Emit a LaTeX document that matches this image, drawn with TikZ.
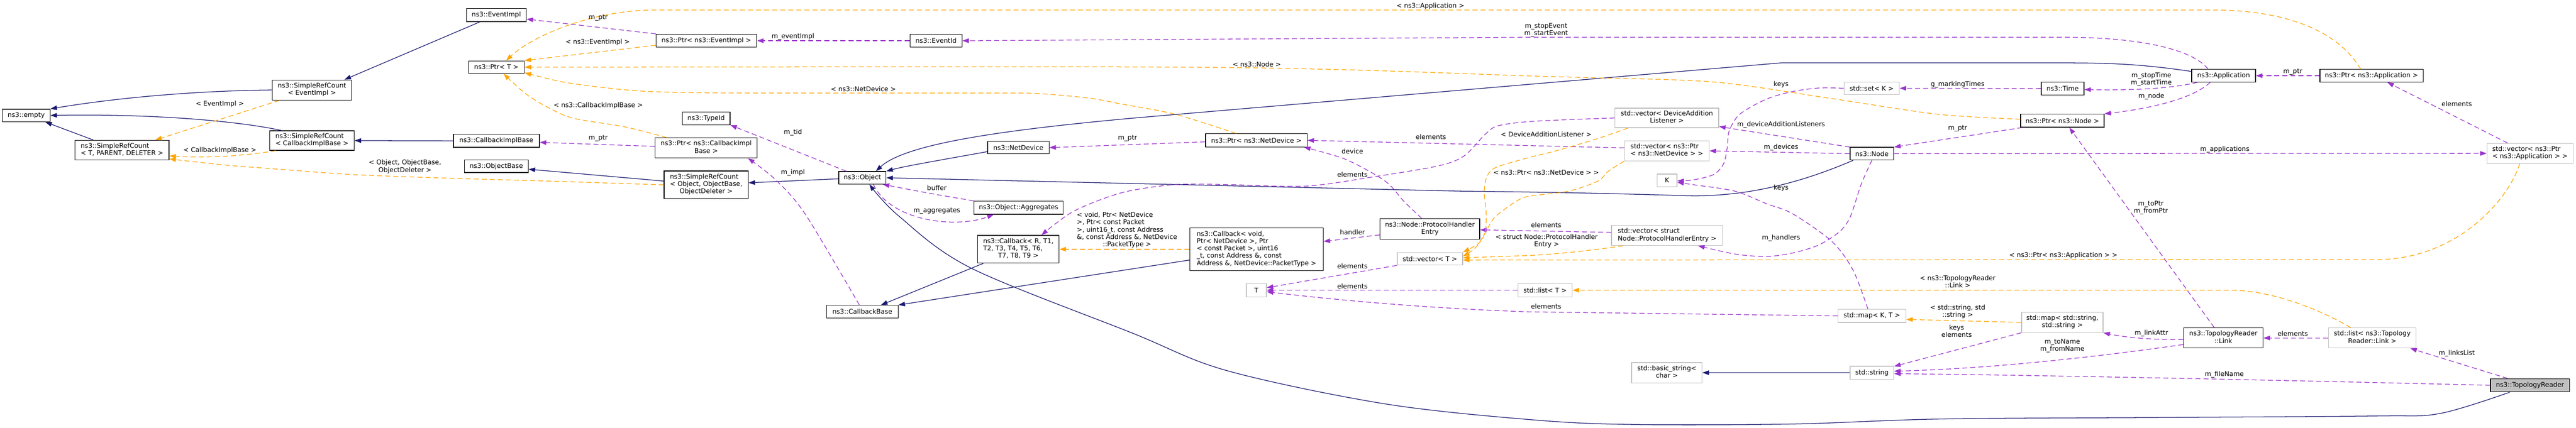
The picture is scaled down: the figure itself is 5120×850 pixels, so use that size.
\documentclass[tikz,border=0pt]{standalone}
\usepackage{fontspec}
\setmainfont{DejaVu Sans}
\usetikzlibrary{arrows.meta}
\definecolor{navy}{HTML}{191970}
\definecolor{purp}{HTML}{9A32CD}
\definecolor{orng}{HTML}{FFA500}
\definecolor{grey75}{HTML}{BFBFBF}
\newcommand{\mlx}[2]{\begin{tabular}{@{}l@{}}#1\\\multicolumn{1}{@{}c@{}}{#2}\end{tabular}}
\newcommand{\clx}[1]{\begin{tabular}{@{}c@{}}#1\end{tabular}}
\begin{document}
\begin{tikzpicture}[x=1pt,y=-1pt,
  txt/.style={font=\fontsize{13}{14.6}\selectfont},
  doc/.style={txt,draw=black,fill=white,line width=1.3pt,inner sep=0pt},
  und/.style={txt,draw=grey75,fill=white,line width=1.3pt,inner sep=0pt},
  bx/.style 2 args={minimum width=#1pt,minimum height=#2pt},
  lbl/.style={txt,inner sep=0pt},
  tip/.style={-{Triangle[length=13pt,width=9pt]}},
  inhline/.style={draw=navy,line width=1.3pt,tip},
  useline/.style={draw=purp,line width=1.3pt,dash pattern=on 10pt off 6pt,tip},
  tmplline/.style={draw=orng,line width=1.3pt,dash pattern=on 10pt off 6pt,tip}]
\fill[white] (0,0) rectangle (5120,850);
\useasboundingbox (0,0) rectangle (5120,850);

% ---------------- nodes ----------------
\node[doc,bx={95}{25}] (empty) at (52,229.5) {ns3::empty};
\node[doc,bx={187}{39}] (srcTPD) at (242.5,298.5) {\mlx{ns3::SimpleRefCount}{< T, PARENT, DELETER >}};
\node[doc,bx={158}{40}] (srcEI) at (620,179) {\mlx{ns3::SimpleRefCount}{< EventImpl >}};
\node[doc,bx={168}{39}] (srcCIB) at (620,279.5) {\mlx{ns3::SimpleRefCount}{< CallbackImplBase >}};
\node[doc,bx={119}{26}] (eventImpl) at (986.5,30) {ns3::EventImpl};
\node[doc,bx={111}{25}] (ptrT) at (986.5,133.5) {ns3::Ptr< T >};
\node[doc,bx={171}{26}] (cib) at (986.5,280) {ns3::CallbackImplBase};
\node[doc,bx={127}{25}] (objBase) at (986.5,330.5) {ns3::ObjectBase};
\node[doc,bx={200}{26}] (ptrEI) at (1404,81) {ns3::Ptr< ns3::EventImpl >};
\node[doc,bx={95}{25}] (typeId) at (1403.5,235.5) {ns3::TypeId};
\node[doc,bx={203}{40}] (ptrCIB) at (1403.5,294) {\mlx{ns3::Ptr< ns3::CallbackImpl}{Base >}};
\node[doc,bx={167}{55}] (srcObj) at (1403.5,367.5) {\mlx{ns3::SimpleRefCount\\< Object, ObjectBase,}{ObjectDeleter >}};
\node[doc,bx={103}{26}] (eventId) at (1860.5,81) {ns3::EventId};
\node[doc,bx={94}{25}] (object) at (1714,353.5) {ns3::Object};
\node[doc,bx={142}{25}] (cbBase) at (1714,619.5) {ns3::CallbackBase};
\node[doc,bx={122}{25}] (netDev) at (2024,293.5) {ns3::NetDevice};
\node[doc,bx={177}{26}] (aggr) at (2024.5,413) {ns3::Object::Aggregates};
\node[doc,bx={162}{55}] (cbRT) at (2024,495.5) {\mlx{ns3::Callback< R, T1,\\ T2, T3, T4, T5, T6,}{T7, T8, T9 >}};
\node[doc,bx={202}{26}] (ptrND) at (2497,279) {ns3::Ptr< ns3::NetDevice >};
\node[doc,bx={265}{85}] (cbVoid) at (2497.5,495.5) {\mlx{ns3::Callback< void,\\ Ptr< NetDevice >, Ptr\\< const Packet >, uint16\\\_t, const Address \&, const}{Address \&, NetDevice::PacketType >}};
\node[und,bx={40}{26}] (tT) at (2497,577) {T};
\node[doc,bx={198}{41}] (phe) at (2842,455.5) {\mlx{ns3::Node::ProtocolHandler}{Entry}};
\node[und,bx={130}{25}] (vecT) at (2842,514.5) {std::vector< T >};
\node[und,bx={108}{26}] (listT) at (3071,577) {std::list< T >};
\node[und,bx={206}{39}] (vecDAL) at (3313,234.5) {\mlx{std::vector< DeviceAddition}{Listener >}};
\node[und,bx={168}{40}] (vecPND) at (3313,300) {\mlx{std::vector< ns3::Ptr}{< ns3::NetDevice > >}};
\node[und,bx={39}{25}] (kK) at (3313.5,358.5) {K};
\node[und,bx={221}{40}] (vecPHE) at (3313.5,468) {\mlx{std::vector< struct}{Node::ProtocolHandlerEntry >}};
\node[und,bx={140}{40}] (basicStr) at (3313,741) {\mlx{std::basic\_string<}{char >}};
\node[und,bx={110}{25}] (setK) at (3720,175.5) {std::set< K >};
\node[doc,bx={87}{25}] (nsNode) at (3720.5,305.5) {ns3::Node};
\node[und,bx={135}{26}] (mapKT) at (3720.5,628) {std::map< K, T >};
\node[und,bx={87}{26}] (stdString) at (3720.5,741) {std::string};
\node[doc,bx={85}{26}] (nsTime) at (4099.5,176) {ns3::Time};
\node[doc,bx={166}{26}] (ptrNode) at (4099,240) {ns3::Ptr< ns3::Node >};
\node[und,bx={162}{40}] (mapSS) at (4099,641) {\mlx{std::map< std::string,}{std::string >}};
\node[doc,bx={127}{25}] (app) at (4419.5,150.5) {ns3::Application};
\node[doc,bx={158}{40}] (link) at (4419,672) {\mlx{ns3::TopologyReader}{::Link}};
\node[doc,bx={205}{25}] (ptrApp) at (4713.5,150.5) {ns3::Ptr< ns3::Application >};
\node[und,bx={174}{40}] (listLink) at (4715,672) {\mlx{std::list< ns3::Topology}{Reader::Link >}};
\node[und,bx={171}{40}] (vecPApp) at (5028.5,305) {\mlx{std::vector< ns3::Ptr}{< ns3::Application > >}};
\node[doc,fill=grey75,bx={157}{26}] (topo) at (5028.5,766) {ns3::TopologyReader};

% ---------------- inheritance (navy) ----------------
\draw[inhline] (srcEI.west) .. controls (420,180) and (260,190) .. (empty.north east);
\draw[inhline] ([xshift=24pt]srcCIB.north west) .. controls (470,240) and (300,226) .. (empty.east);
\draw[inhline] ([xshift=-57pt]srcTPD.north) -- ([xshift=-10pt]empty.south east);
\draw[inhline] ([xshift=-33pt]eventImpl.south) -- ([xshift=-15pt]srcEI.north east);
\draw[inhline] (cib.west) -- (srcCIB.east);
\draw[inhline] ([yshift=7.5pt]srcObj.west) -- ([yshift=-6pt]objBase.east);
\draw[inhline] ([yshift=-2pt]object.west) -- ([yshift=4pt]srcObj.east);
\draw[inhline] ([yshift=-8pt]netDev.west) .. controls (1860,320) and (1800,330) .. (object.north east);
\draw[inhline] ([yshift=8.5pt]app.west) .. controls (4260,128) and (4200,125) .. (4100,125) -- (3540,125) -- (2250,235) .. controls (2000,258) and (1800,285) .. ([xshift=27pt]object.north);
\draw[inhline] ([xshift=-37pt]nsNode.south) .. controls (3560,372) and (3450,392) .. (3350,389) .. controls (3250,386) and (3100,382) .. (2900,380) -- (object.east);
\draw[inhline] plot[smooth,tension=0.55] coordinates {([xshift=-40pt]topo.south) (4850,822) (4725,827) (4300,830) (3860,833) (3563,843) (3249,844) (3050,835) (2753,803) (2439,737) (2250,662) (1930,533) (1787,430) ([xshift=14pt]object.south)};
\draw[inhline] ([xshift=12pt]cbRT.south west) -- ([xshift=37pt]cbBase.north);
\draw[inhline] ([yshift=-21.5pt]cbVoid.west) -- (cbBase.north east);
\draw[inhline] (stdString.west) -- (basicStr.east);

% ---------------- usage (purple) ----------------
\draw[useline] (ptrEI.north west) -- ([yshift=-8pt]eventImpl.east);
\draw[useline] (eventId.west) -- (ptrEI.east);
\draw[useline] ([xshift=-31pt]app.north) .. controls (4360,100) and (4260,74) .. (4100,74) -- (3040,74) -- (eventId.east);
\draw[useline] ([xshift=-32pt]object.north) -- (typeId.south east);
\draw[useline] plot[smooth] coordinates {([xshift=-6pt]cbBase.north) (1600,425) (1540,356) ([xshift=-19pt]ptrCIB.south east)};
\draw[useline] ([yshift=3pt]ptrCIB.west) -- ([yshift=-3pt]cib.east);
\draw[useline] (aggr.north west) .. controls (1850,385) .. ([xshift=-7pt]object.south east);
\draw[useline] ([xshift=22pt]object.south) .. controls (1770,440) and (1900,455) .. ([xshift=-49.5pt]aggr.south);
\draw[useline] ([yshift=-3pt]ptrND.west) -- (netDev.east);
\draw[useline] plot[smooth,tension=0.5] coordinates {(vecDAL.west) (3050,241) (2978,250) (2952,267) (2910,310) (2858,330) (2727,352) (2596,370) (2439,367) (2335,367) (2230,383) (2134,420) ([xshift=46pt]cbRT.north)};
\draw[useline] ([yshift=6pt]vecPND.west) -- (ptrND.east);
\draw[useline] plot[smooth] coordinates {([xshift=-16pt]phe.north) (2790,400) (2753,360) (2675,317) ([xshift=-7pt]ptrND.south east)};
\draw[useline] ([yshift=-11.5pt]phe.west) -- ([yshift=15.5pt]cbVoid.east);
\draw[useline] (vecT.south west) -- ([yshift=5pt]tT.east);
\draw[useline] (listT.west) -- (tT.east);
\draw[useline] (mapKT.west) -- (3040,620) .. controls (2800,612) and (2600,590) .. ([yshift=-3pt]tT.east);
\draw[useline] ([yshift=6pt]vecPHE.west) -- ([yshift=-1.5pt]phe.east);
\draw[useline] plot[smooth] coordinates {(setK.west) (3615,175) (3563,182) (3511,197) (3458,227) (3437,260) (3433,293) (3426,325) (3406,347) (3364,358) ([yshift=-1pt]kK.east)};
\draw[useline] plot[smooth] coordinates {([xshift=-8pt]mapKT.north) (3683,537) (3641,480) (3563,425) (3511,405) (3448,380) (3364,367) ([yshift=-4pt]kK.east)};
\draw[useline] (nsNode.north west) -- ([yshift=3pt]vecDAL.south east);
\draw[useline] (nsNode.west) -- (vecPND.east);
\draw[useline] plot[smooth] coordinates {(nsNode.south) (3699,367) (3678,430) (3657,460) (3615,487) (3563,503) (3510,510) (3448,505) ([xshift=61.5pt]vecPHE.south)};
\draw[useline] ([xshift=4pt]ptrNode.south west) -- (nsNode.north east);
\draw[useline] (nsNode.east) -- (vecPApp.west);
\draw[useline] (nsTime.west) -- (setK.east);
\draw[useline] (ptrApp.west) -- (app.east);
\draw[useline] ([xshift=-51.5pt]app.south) .. controls (4320,175) and (4250,180) .. ([yshift=-2pt]nsTime.east);
\draw[useline] ([xshift=-26.5pt]app.south) .. controls (4360,195) and (4280,215) .. (ptrNode.north east);
\draw[useline] ([xshift=-44.5pt]vecPApp.north) -- ([xshift=31.5pt]ptrApp.south);
\draw[useline] ([xshift=-18pt]link.north) -- ([xshift=14pt]ptrNode.south);
\draw[useline] ([yshift=-3pt]link.west) .. controls (4260,676) and (4210,668) .. (mapSS.south east);
\draw[useline] ([yshift=-13pt]link.west) .. controls (4150,712) and (3950,733) .. ([yshift=3pt]stdString.east);
\draw[useline] (mapSS.south west) -- ([yshift=-1pt]stdString.north east);
\draw[useline] (topo.west) .. controls (4500,755) and (4000,745) .. ([yshift=-2pt]stdString.east);
\draw[useline] (listLink.west) -- (link.east);
\draw[useline] ([xshift=-44.5pt]topo.north) -- ([xshift=-12pt]listLink.south east);

% ---------------- template instances (orange) ----------------
\draw[tmplline] ([xshift=15pt]srcEI.south west) -- ([xshift=-28pt]srcTPD.north east);
\draw[tmplline] ([xshift=13pt]srcCIB.south west) .. controls (470,312) and (400,314) .. ([yshift=-11.5pt]srcTPD.east);
\draw[tmplline] plot[smooth] coordinates {(srcObj.west) (1088,360) (884,354) (700,347) (536,335) (446,328) ([yshift=-17.5pt]srcTPD.east)};
\draw[tmplline] ([yshift=-9pt]ptrEI.west) -- (ptrT.north east);
\draw[tmplline] ([xshift=-21.5pt]ptrApp.north) .. controls (4640,50) and (4520,20) .. (4400,20) -- (1300,20) .. controls (1180,20) and (1060,70) .. ([xshift=19.5pt]ptrT.north);
\draw[tmplline] plot[smooth] coordinates {([yshift=3pt]ptrNode.west) (3850,227) (3641,196) (3406,163) (3144,154) (3040,151) (2648,138) (2230,133) (ptrT.east)};
\draw[tmplline] plot[smooth] coordinates {([xshift=-40pt]ptrND.north) (2335,227) (2230,207) (2164,195) (2062,186) (1960,185) (1480,185) (1292,182) (1190,173) (1114,162) ([yshift=2pt]ptrT.south east)};
\draw[tmplline] plot[smooth] coordinates {([xshift=-78.5pt]ptrCIB.north) (1241,252) (1139,235) (1088,213) (1047,188) (1017,162) ([xshift=14.5pt]ptrT.south)};
\draw[tmplline] (cbVoid.west) -- (cbRT.east);
\draw[tmplline] plot[smooth] coordinates {([xshift=-77pt]vecDAL.south) (3171,277) (3092,300) (3040,313) (2973,333) (2955,352) (2950,383) (2954,425) (2952,460) (2940,483) (vecT.north east)};
\draw[tmplline] plot[smooth] coordinates {([xshift=-85pt]vecPND.south) (3197,340) (3176,360) (3118,380) (3040,390) (3014,400) (2975,428) (2962,445) (2935,490) ([yshift=5pt]vecT.east)};
\draw[tmplline] ([xshift=-87.5pt]vecPHE.south) .. controls (3150,500) and (3080,506) .. (3040,508) -- ([yshift=2pt]vecT.east);
\draw[tmplline] ([xshift=-20.5pt]vecPApp.south) .. controls (4985,400) and (4880,516) .. (4725,516) -- ([yshift=-2.5pt]vecT.east);
\draw[tmplline] ([xshift=-43pt]listLink.north) .. controls (4620,620) and (4520,577) .. (4433,577) -- (listT.east);
\draw[tmplline] (mapSS.west) -- ([yshift=-7pt]mapKT.east);

% ---------------- edge labels ----------------
\node[lbl] (l01) at (1189,35) {m\_ptr};
\node[lbl] (l02) at (1188,84) {< ns3::EventImpl >};
\node[lbl] (l03) at (1576,73) {m\_eventImpl};
\node[lbl] (l04) at (2843,12) {< ns3::Application >};
\node[lbl] (l05) at (3073,60) {\clx{m\_stopEvent\\m\_startEvent}};
\node[lbl] (l06) at (2498,128) {< ns3::Node >};
\node[lbl] (l07) at (437,207) {< EventImpl >};
\node[lbl] (l08) at (437,299) {< CallbackImplBase >};
\node[lbl] (l09) at (805,332) {\clx{< Object, ObjectBase,\\ObjectDeleter >}};
\node[lbl] (l10) at (1189,210) {< ns3::CallbackImplBase >};
\node[lbl] (l11) at (1189,275) {m\_ptr};
\node[lbl] (l12) at (1576,263) {m\_tid};
\node[lbl] (l13) at (1576,343) {m\_impl};
\node[lbl] (l14) at (1862,374) {buffer};
\node[lbl] (l15) at (1862,419) {m\_aggregates};
\node[lbl] (l16) at (1716,177) {< ns3::NetDevice >};
\node[lbl] (l17) at (2241,275) {m\_ptr};
\node[lbl] (l18) at (2240,458) {\mlx{< void, Ptr< NetDevice\\>, Ptr< const Packet\\>, uint16\_t, const Address\\\&, const Address \&, NetDevice}{::PacketType >}};
\node[lbl] (l19) at (2844,272) {elements};
\node[lbl] (l20) at (2688,301) {device};
\node[lbl] (l21) at (2688,347) {elements};
\node[lbl] (l22) at (3073,267) {< DeviceAdditionListener >};
\node[lbl] (l23) at (3073,343) {< ns3::Ptr< ns3::NetDevice > >};
\node[lbl] (l24) at (2688,462) {handler};
\node[lbl] (l25) at (2688,529) {elements};
\node[lbl] (l26) at (2688,569) {elements};
\node[lbl] (l27) at (3073,447) {elements};
\node[lbl] (l28) at (3074,480) {\mlx{< struct Node::ProtocolHandler}{Entry >}};
\node[lbl] (l29) at (3073,609) {elements};
\node[lbl] (l30) at (3540,168) {keys};
\node[lbl] (l31) at (3891,168) {g\_markingTimes};
\node[lbl] (l32) at (3540,248) {m\_deviceAdditionListeners};
\node[lbl] (l33) at (3540,293) {m\_devices};
\node[lbl] (l34) at (3540,374) {keys};
\node[lbl] (l35) at (3540,473) {m\_handlers};
\node[lbl] (l36) at (3891,562) {\mlx{< ns3::TopologyReader}{::Link >}};
\node[lbl] (l37) at (3891,620) {\mlx{< std::string, std}{::string >}};
\node[lbl] (l38) at (3889,660) {\clx{keys\\elements}};
\node[lbl] (l39) at (4557,143) {m\_ptr};
\node[lbl] (l40) at (4276,158) {\clx{m\_stopTime\\m\_startTime}};
\node[lbl] (l41) at (4276,192) {m\_node};
\node[lbl] (l42) at (3891,256) {m\_ptr};
\node[lbl] (l43) at (4883,207) {elements};
\node[lbl] (l44) at (4422,297) {m\_applications};
\node[lbl] (l45) at (4275,413) {\clx{m\_toPtr\\m\_fromPtr}};
\node[lbl] (l46) at (4101,508) {< ns3::Ptr< ns3::Application > >};
\node[lbl] (l47) at (4276,663) {m\_linkAttr};
\node[lbl] (l48) at (4099,688) {\clx{m\_toName\\m\_fromName}};
\node[lbl] (l49) at (4557,663) {elements};
\node[lbl] (l50) at (4883,703) {m\_linksList};
\node[lbl] (l51) at (4421,745) {m\_fileName};
\end{tikzpicture}
\end{document}
